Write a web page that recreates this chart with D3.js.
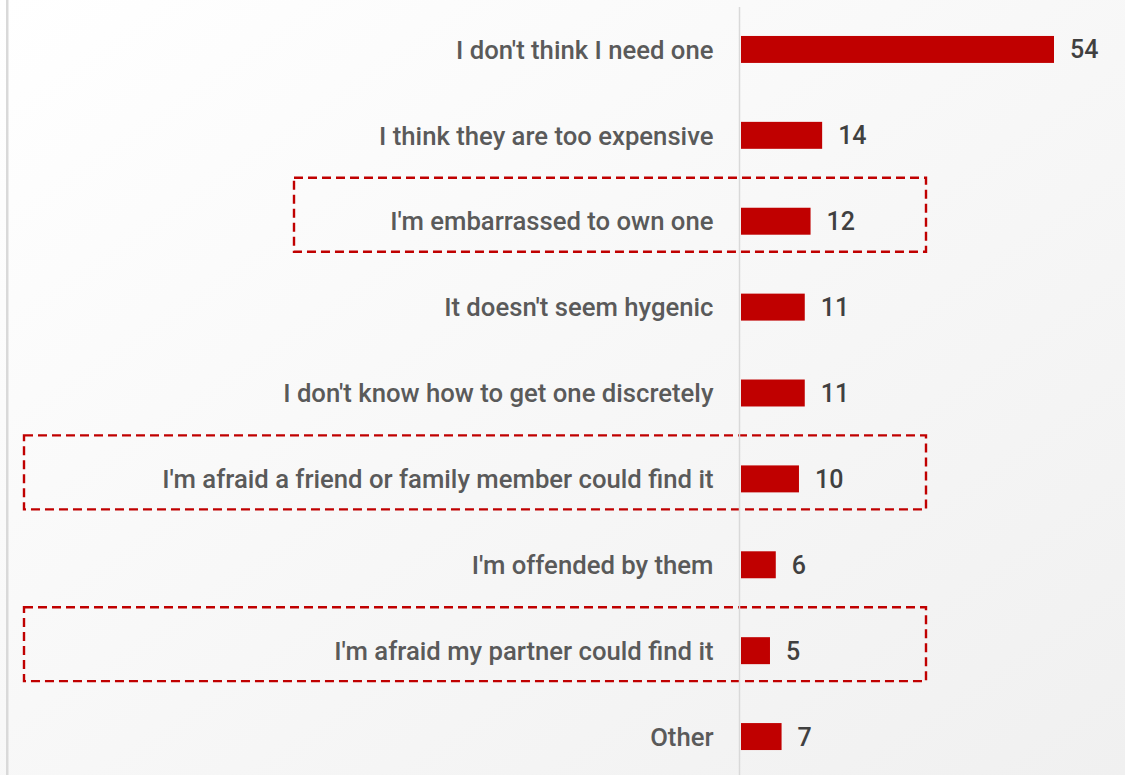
<!DOCTYPE html>
<html>
<head>
<meta charset="utf-8">
<script src="https://cdn.jsdelivr.net/npm/d3@7"></script>
<style>
  html, body { margin: 0; padding: 0; }
  body { width: 1125px; height: 775px; overflow: hidden; }
</style>
</head>
<body>
<svg id="chart" width="1125" height="775"></svg>
<script>
const categories = [
  "I don't think I need one",
  "I think they are too expensive",
  "I'm embarrassed to own one",
  "It doesn't seem hygenic",
  "I don't know how to get one discretely",
  "I'm afraid a friend or family member could find it",
  "I'm offended by them",
  "I'm afraid my partner could find it",
  "Other"
];
const values = [54, 14, 12, 11, 11, 10, 6, 5, 7];
const highlighted = [
  "I'm embarrassed to own one",
  "I'm afraid a friend or family member could find it",
  "I'm afraid my partner could find it"
];

const W = 1125, H = 775;
const svg = d3.select("#chart");
const defs = svg.append("defs");
const grad = defs.append("linearGradient").attr("id", "bg")
  .attr("x1", "0").attr("y1", "0").attr("x2", "1").attr("y2", "1");
grad.append("stop").attr("offset", "0%").attr("stop-color", "#ffffff");
grad.append("stop").attr("offset", "100%").attr("stop-color", "#f0f0f0");

svg.append("rect").attr("width", W).attr("height", H).attr("fill", "url(#bg)");
svg.append("rect").attr("x", 6).attr("y", 0).attr("width", 2.5).attr("height", H).attr("fill", "#d9d9d9");

const font = "Roboto, 'Open Sans', sans-serif";

const y = d3.scaleBand().domain(categories).range([6.5, 779.5])
  .paddingInner(0.686).paddingOuter(0.343);
const x = d3.scaleLinear().domain([0, d3.max(values)]).range([741, 1054]);

// highlight boxes
const boxLeft = d => d === "I'm embarrassed to own one" ? 294 : 24;
svg.append("g").selectAll("rect").data(highlighted).join("rect")
  .attr("x", d => boxLeft(d))
  .attr("y", d => y(d) - 30)
  .attr("width", d => 926 - boxLeft(d))
  .attr("height", d => y.bandwidth() + 47)
  .attr("fill", "none")
  .attr("stroke", "#c00000")
  .attr("stroke-width", 2.4)
  .attr("stroke-dasharray", "9,5");

// axis line
const axis = d3.axisLeft(y).tickSize(0).tickPadding(26);
const ag = svg.append("g").attr("transform", "translate(739.5,0)").call(axis);
ag.select(".domain").attr("stroke", "#d9d9d9").attr("stroke-width", 1.5)
  .attr("d", `M0,7V${H}`);
ag.selectAll(".tick text")
  .attr("font-family", font).attr("font-size", 25.7).attr("font-weight", 500)
  .attr("fill", "#5a5a5a").attr("dy", "0.36em");

// bars
svg.append("g").selectAll("rect").data(categories).join("rect")
  .attr("x", x(0))
  .attr("y", d => y(d))
  .attr("width", (d, i) => x(values[i]) - x(0))
  .attr("height", y.bandwidth())
  .attr("fill", "#c00000");

// values
svg.append("g").selectAll("text").data(categories).join("text")
  .attr("x", (d, i) => x(values[i]) + 16)
  .attr("y", d => y(d) + y.bandwidth() / 2)
  .attr("dy", "0.36em")
  .attr("font-family", font).attr("font-size", 25).attr("font-weight", 500)
  .attr("fill", "#404040")
  .text((d, i) => values[i]);
</script>
</body>
</html>
